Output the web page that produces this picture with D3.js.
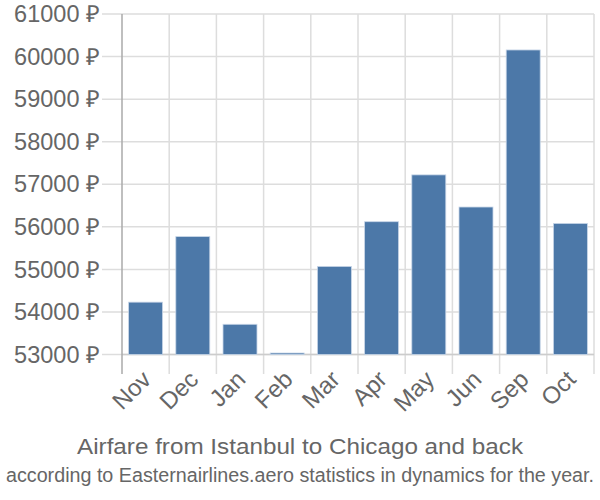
<!DOCTYPE html>
<html><head><meta charset="utf-8">
<script src="https://cdn.jsdelivr.net/npm/d3@7"></script>
<style>body{margin:0;background:#fff}svg{display:block}text{font-family:"Liberation Sans",Arial,sans-serif}</style>
</head><body>
<svg id="c" width="600" height="500"></svg>
<script>
const months = ["Nov","Dec","Jan","Feb","Mar","Apr","May","Jun","Sep","Oct"];
const prices = [54230,55770,53710,53035,55070,56120,57220,56465,60155,56080];
const yTicks = [53000,54000,55000,56000,57000,58000,59000,60000,61000];
const title = "Airfare from Istanbul to Chicago and back";
const subtitle = "according to Easternairlines.aero statistics in dynamics for the year.";

const svg = d3.select("#c");
const L = 122, R = 594, T = 14, B = 354.5;
const x = d3.scaleBand().domain(months).range([L, R]).paddingInner(0.28).paddingOuter(0.14);
const y = d3.scaleLinear().domain([53000, 61000]).range([B, T]);
const step = x.step();

// horizontal grid
svg.append("g").selectAll("line").data(yTicks).join("line")
  .attr("x1", 102).attr("x2", R).attr("y1", d => y(d)).attr("y2", d => y(d))
  .attr("stroke", "#dddddd").attr("stroke-width", 1.5);
// vertical grid
const bounds = months.map(m => x(m) - step * 0.14).concat([R]);
svg.append("g").selectAll("line").data(bounds.slice(1)).join("line")
  .attr("x1", d => d).attr("x2", d => d).attr("y1", T).attr("y2", 374)
  .attr("stroke", "#dddddd").attr("stroke-width", 1.5);
// bottom axis line
svg.append("line").attr("x1", L).attr("x2", R).attr("y1", B).attr("y2", B)
  .attr("stroke", "#cccccc").attr("stroke-width", 1.5);
// y axis line
svg.append("line").attr("x1", L).attr("x2", L).attr("y1", T).attr("y2", 374)
  .attr("stroke", "#aaaaaa").attr("stroke-width", 1.5);

// bars
svg.append("g").selectAll("rect").data(months).join("rect")
  .attr("x", d => x(d)).attr("width", x.bandwidth())
  .attr("y", (d, i) => y(prices[i])).attr("height", (d, i) => B - y(prices[i]))
  .attr("fill", "#4c78a8").attr("stroke", "#c8d6e8").attr("stroke-width", 0.8);

// y labels
svg.append("g").selectAll("text").data(yTicks).join("text")
  .attr("x", 100).attr("y", d => y(d)).attr("dy", "0.35em")
  .attr("text-anchor", "end").attr("fill", "#666").attr("font-size", 23.5)
  .text(d => d + " \u20BD");

// x labels
svg.append("g").selectAll("text").data(months).join("text")
  .attr("transform", d => `translate(${x(d) + x.bandwidth() / 2 - 5},${369}) rotate(-45)`)
  .attr("text-anchor", "end").attr("dy", "0.7em").attr("fill", "#666").attr("font-size", 24)
  .text(d => d);

svg.append("text").attr("x", 300).attr("y", 454).attr("text-anchor", "middle")
  .attr("fill", "#666").attr("font-size", 22).attr("textLength", 446).attr("lengthAdjust", "spacingAndGlyphs").text(title);
svg.append("text").attr("x", 300).attr("y", 482).attr("text-anchor", "middle")
  .attr("fill", "#666").attr("font-size", 19.5).attr("textLength", 588).attr("lengthAdjust", "spacingAndGlyphs").text(subtitle);
</script>
</body></html>
